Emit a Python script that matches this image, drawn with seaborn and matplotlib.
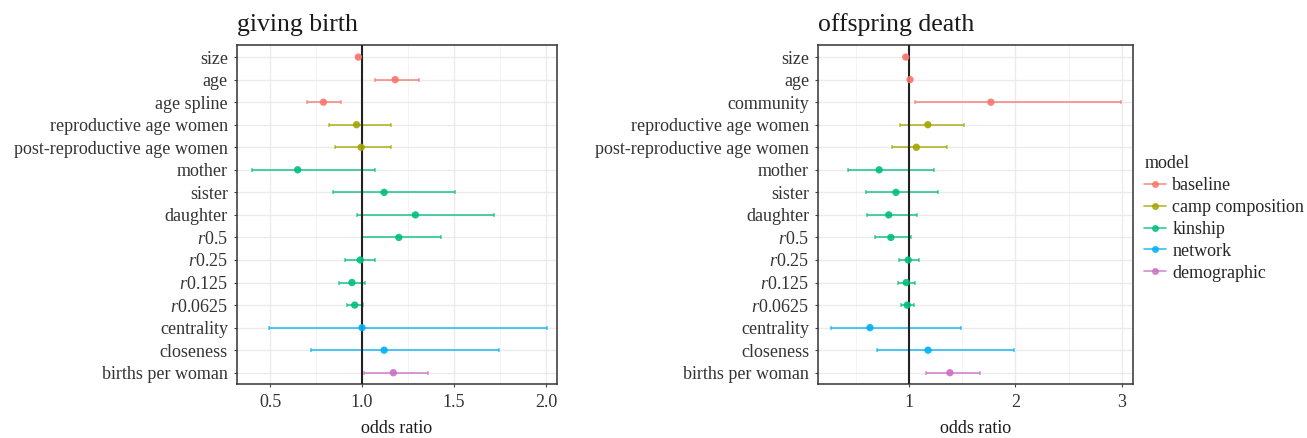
import pandas as pd
import matplotlib
import matplotlib.pyplot as plt
from matplotlib.lines import Line2D
import seaborn as sns

# model groups and colours
models = ['baseline', 'camp composition', 'kinship', 'network', 'demographic']
colors = ['#F8766D', '#A3A500', '#00BF7D', '#00B0F6', '#CC6FC6']

# giving birth
birth_terms = ['size', 'age', 'age spline', 'reproductive age women',
               'post-reproductive age women', 'mother', 'sister', 'daughter',
               r'$\mathit{r}$0.5', r'$\mathit{r}$0.25', r'$\mathit{r}$0.125',
               r'$\mathit{r}$0.0625', 'centrality', 'closeness', 'births per woman']
birth_model = ['baseline'] * 3 + ['camp composition'] * 2 + ['kinship'] * 7 + ['network'] * 2 + ['demographic']
birth_est = [0.98, 1.18, 0.79, 0.97, 0.995, 0.65, 1.12, 1.29, 1.20, 0.99, 0.945, 0.96, 1.0, 1.12, 1.17]
birth_lo = [0.97, 1.07, 0.70, 0.82, 0.855, 0.40, 0.84, 0.97, 1.0, 0.905, 0.877, 0.917, 0.495, 0.725, 1.013]
birth_hi = [0.99, 1.31, 0.885, 1.155, 1.16, 1.07, 1.505, 1.72, 1.43, 1.072, 1.016, 1.005, 2.005, 1.745, 1.36]

# offspring death
death_terms = ['size', 'age', 'community', 'reproductive age women',
               'post-reproductive age women', 'mother', 'sister', 'daughter',
               r'$\mathit{r}$0.5', r'$\mathit{r}$0.25', r'$\mathit{r}$0.125',
               r'$\mathit{r}$0.0625', 'centrality', 'closeness', 'births per woman']
death_model = birth_model
death_est = [0.97, 1.01, 1.77, 1.178, 1.07, 0.72, 0.878, 0.81, 0.83, 0.993, 0.975, 0.984, 0.634, 1.18, 1.385]
death_lo = [0.96, 1.0, 1.053, 0.915, 0.84, 0.427, 0.60, 0.61, 0.68, 0.903, 0.895, 0.93, 0.27, 0.70, 1.157]
death_hi = [0.98, 1.02, 2.99, 1.52, 1.36, 1.235, 1.276, 1.075, 1.02, 1.09, 1.056, 1.044, 1.49, 1.99, 1.67]

sns.set_theme(style='white')
plt.rcParams['font.family'] = ['Liberation Serif', 'DejaVu Serif']
plt.rcParams['mathtext.fontset'] = 'custom'
plt.rcParams['mathtext.it'] = 'Liberation Serif:italic'
plt.rcParams['mathtext.rm'] = 'Liberation Serif'

palette = dict(zip(models, colors))
FS = 13


def panel(ax, terms, model, est, lo, hi, title, xlim, major, minor, labels):
    df = pd.DataFrame({'term': terms, 'model': model, 'est': est, 'lo': lo, 'hi': hi})
    ax.set_axisbelow(True)
    ax.set_xticks(major)
    ax.set_xticks(minor, minor=True)
    ax.set_xticklabels(labels)
    ax.grid(which='major', color='#EBEBEB', lw=1.0)
    ax.grid(which='minor', axis='x', color='#F2F2F2', lw=0.6)
    sns.scatterplot(data=df, x='est', y='term', hue='model', hue_order=models,
                    palette=palette, s=28, alpha=0.9, edgecolor='none',
                    legend=False, ax=ax, zorder=4)
    for m in models:
        sub = df[df['model'] == m]
        ax.errorbar(sub['est'], sub['term'],
                    xerr=[sub['est'] - sub['lo'], sub['hi'] - sub['est']],
                    fmt='none', ecolor=palette[m], elinewidth=1.4, capsize=1.6,
                    capthick=1.1, alpha=0.7, zorder=3)
    ax.axvline(1, color='#222222', lw=1.5, zorder=3.5)
    ax.set_xlim(*xlim)
    ax.set_ylim(len(terms) - 0.5, -0.55)
    ax.set_title(title, loc='left', fontsize=18.5, pad=9.5, color='#1a1a1a')
    ax.set_xlabel('odds ratio', fontsize=FS, labelpad=6, color='#1a1a1a')
    ax.set_ylabel('')
    ax.tick_params(axis='both', which='major', length=2.5, width=0.8, color='#444444',
                   labelsize=FS, labelcolor='#333333', pad=4)
    ax.tick_params(axis='x', which='major', pad=5)
    ax.tick_params(axis='x', which='minor', length=0)
    ax.tick_params(left=True, bottom=True)
    for s in ax.spines.values():
        s.set_color('#333333')
        s.set_linewidth(1.1)


fig = plt.figure(figsize=(13.07, 4.38), dpi=100)
ax1 = fig.add_axes([0.1813, 0.1233, 0.2449, 0.7747])
ax2 = fig.add_axes([0.6259, 0.1233, 0.2410, 0.7747])

panel(ax1, birth_terms, birth_model, birth_est, birth_lo, birth_hi, 'giving birth',
      (0.32, 2.06), [0.5, 1.0, 1.5, 2.0], [0.75, 1.25, 1.75], ['0.5', '1.0', '1.5', '2.0'])
panel(ax2, death_terms, death_model, death_est, death_lo, death_hi, 'offspring death',
      (0.146, 3.106), [1, 2, 3], [0.5, 1.5, 2.5], ['1', '2', '3'])

handles = [Line2D([0], [0], color=c, marker='o', ms=4, lw=1.2, alpha=0.8) for c in colors]
fig.legend(handles, models, title='model', loc='upper left',
           bbox_to_anchor=(1137 / 1307, 1 - 148 / 438), frameon=False,
           fontsize=FS, title_fontsize=FS, handlelength=1.2, handletextpad=0.35,
           labelspacing=0.27, alignment='left', borderaxespad=0)

fig.savefig('out.png', dpi=100)
